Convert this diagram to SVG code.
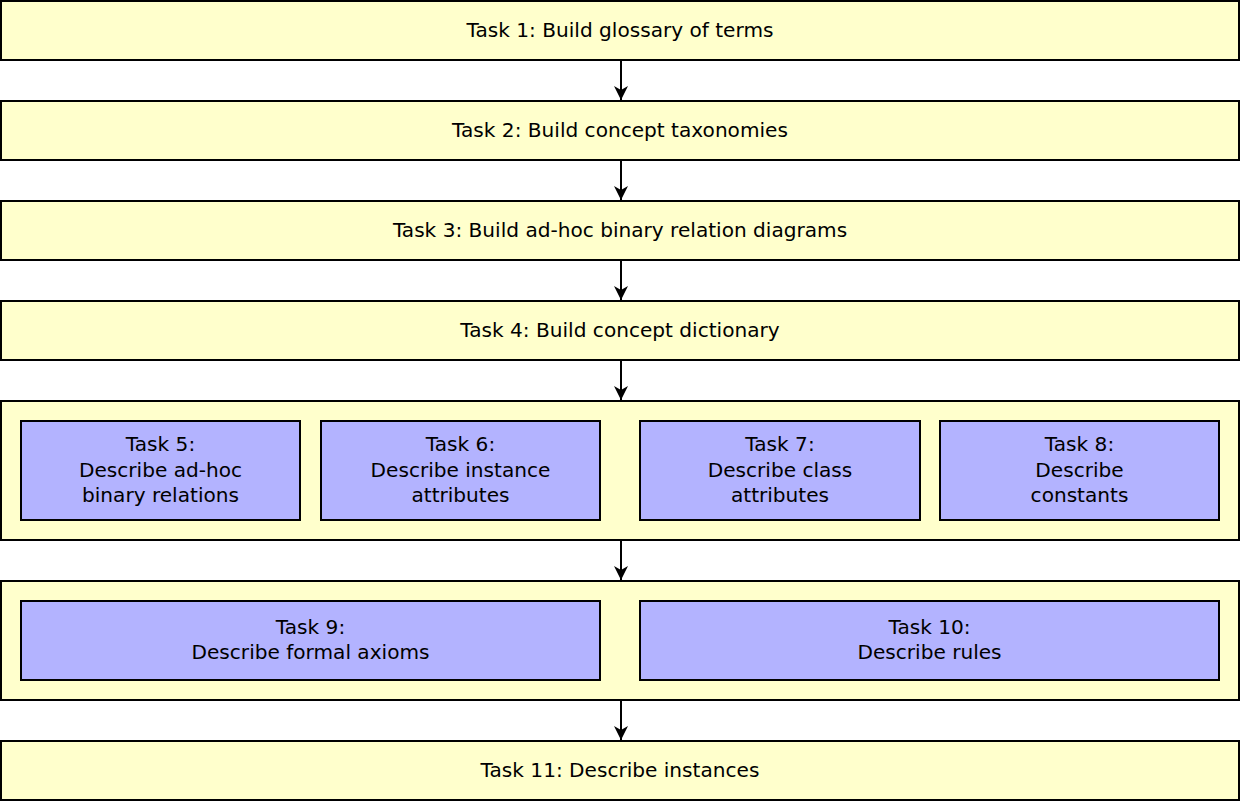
<svg xmlns="http://www.w3.org/2000/svg" width="1242" height="802" viewBox="0 0 1242 802">
<defs>
<style>
.o{fill:#ffffcc;stroke:#000;stroke-width:2}
.i{fill:#b3b3ff;stroke:#000;stroke-width:2}
text{font-family:"DejaVu Sans",sans-serif;font-size:20.1px;fill:#000;text-anchor:middle}
.c{fill:none;stroke:#000;stroke-width:2}
</style>
<marker id="ah" markerWidth="14" markerHeight="14" refX="14" refY="7" orient="auto" markerUnits="userSpaceOnUse" viewBox="0 0 14 14">
<path d="M14,7 L0,0 L4,7 L0,14 Z" fill="#000"/>
</marker>
</defs>
<rect width="1242" height="802" fill="#fff"/>
<g id="connectors">
<line class="c" x1="621" y1="61" x2="621" y2="100" marker-end="url(#ah)"/>
<line class="c" x1="621" y1="161" x2="621" y2="200" marker-end="url(#ah)"/>
<line class="c" x1="621" y1="261" x2="621" y2="300" marker-end="url(#ah)"/>
<line class="c" x1="621" y1="361" x2="621" y2="400" marker-end="url(#ah)"/>
<line class="c" x1="621" y1="541" x2="621" y2="580" marker-end="url(#ah)"/>
<line class="c" x1="621" y1="701" x2="621" y2="740" marker-end="url(#ah)"/>
</g>
<g id="task1"><rect class="o" x="1" y="1" width="1238" height="59"/><text x="620" y="37">Task 1: Build glossary of terms</text></g>
<g id="task2"><rect class="o" x="1" y="101" width="1238" height="59"/><text x="620" y="137">Task 2: Build concept taxonomies</text></g>
<g id="task3"><rect class="o" x="1" y="201" width="1238" height="59"/><text x="620" y="237">Task 3: Build ad-hoc binary relation diagrams</text></g>
<g id="task4"><rect class="o" x="1" y="301" width="1238" height="59"/><text x="620" y="337">Task 4: Build concept dictionary</text></g>
<g id="group1"><rect class="o" x="1" y="401" width="1238" height="139"/></g>
<g id="task5"><rect class="i" x="21" y="421" width="279" height="99"/><text x="160.5" y="451">Task 5:</text><text x="160.5" y="476.5">Describe ad-hoc</text><text x="160.5" y="502">binary relations</text></g>
<g id="task6"><rect class="i" x="321" y="421" width="279" height="99"/><text x="460.5" y="451">Task 6:</text><text x="460.5" y="476.5">Describe instance</text><text x="460.5" y="502">attributes</text></g>
<g id="task7"><rect class="i" x="640" y="421" width="280" height="99"/><text x="780" y="451">Task 7:</text><text x="780" y="476.5">Describe class</text><text x="780" y="502">attributes</text></g>
<g id="task8"><rect class="i" x="940" y="421" width="279" height="99"/><text x="1079.5" y="451">Task 8:</text><text x="1079.5" y="476.5">Describe</text><text x="1079.5" y="502">constants</text></g>
<g id="group2"><rect class="o" x="1" y="581" width="1238" height="119"/></g>
<g id="task9"><rect class="i" x="21" y="601" width="579" height="79"/><text x="310.5" y="634">Task 9:</text><text x="310.5" y="659">Describe formal axioms</text></g>
<g id="task10"><rect class="i" x="640" y="601" width="579" height="79"/><text x="929.5" y="634">Task 10:</text><text x="929.5" y="659">Describe rules</text></g>
<g id="task11"><rect class="o" x="1" y="741" width="1238" height="59"/><text x="620" y="777">Task 11: Describe instances</text></g>
</svg>
